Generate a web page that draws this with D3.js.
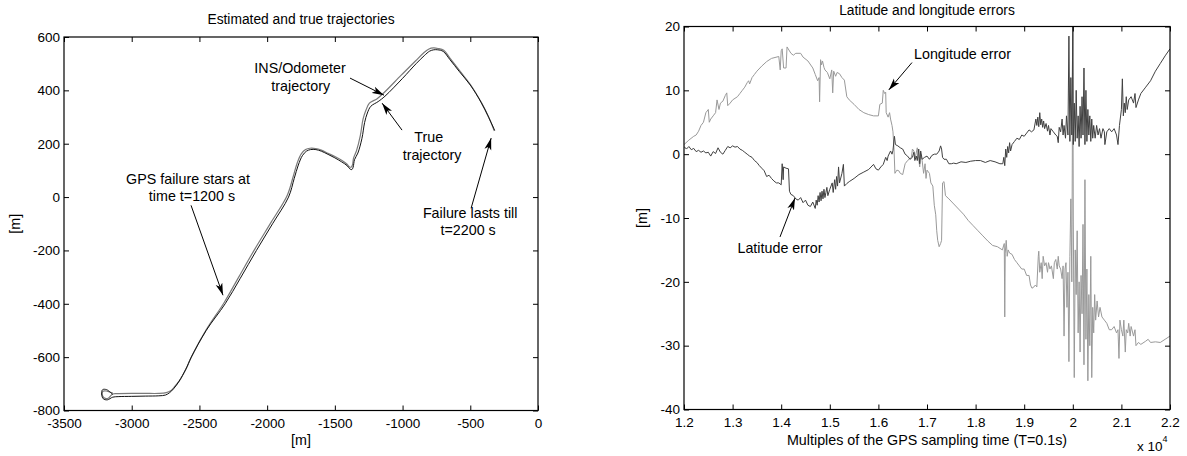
<!DOCTYPE html>
<html>
<head>
<meta charset="utf-8">
<script src="https://cdn.jsdelivr.net/npm/d3@7"></script>
<style>
  html, body { margin: 0; padding: 0; background: #fff; }
  svg { display: block; font-family: "Liberation Sans", Arial, sans-serif; }
</style>
</head>
<body>
<svg id="chart" width="1187" height="456"></svg>
<script>
// ---------- Left chart data: trajectories [m] ----------
const trueX = [-3140,-3185,-3215,-3222,-3210,-3180,-3140,-3100,-3000,-2900,-2800,-2750,-2720,-2690,-2650,-2600,-2560,-2450,-2310,-2200,-2079,-1960,-1842,-1800,-1770,-1740,-1710,-1680,-1640,-1600,-1550,-1500,-1450,-1410,-1390,-1375,-1365,-1355,-1330,-1300,-1280,-1260,-1235,-1180,-1130,-1000,-900,-840,-800,-770,-740,-700,-650,-580,-500,-420,-370,-320];
const trueY = [-740,-722,-722,-738,-756,-760,-750,-748,-747,-746,-745,-742,-733,-718,-690,-645,-600,-500,-400,-306,-200,-100,0,70,120,155,172,178,178,172,160,147,132,118,106,103,112,140,165,220,280,315,340,358,378,445,500,530,547,552,552,546,515,470,420,355,305,250];
const insX = [-3140,-3188,-3212,-3218,-3205,-3178,-3140,-3100,-3000,-2900,-2800,-2745,-2712,-2682,-2642,-2595,-2556,-2448,-2318,-2210,-2090,-1970,-1852,-1808,-1778,-1748,-1716,-1684,-1642,-1600,-1550,-1500,-1450,-1412,-1394,-1380,-1370,-1362,-1340,-1312,-1292,-1270,-1245,-1190,-1140,-1010,-905,-845,-805,-772,-738,-696,-646,-576,-497,-418,-368,-322];
const insY = [-735,-727,-728,-740,-752,-755,-738,-737,-736,-736,-736,-733,-726,-710,-684,-640,-596,-496,-396,-300,-194,-94,6,76,128,162,178,183,182,176,164,152,138,124,114,112,120,146,174,230,292,326,352,368,390,457,510,540,555,559,557,550,518,472,420,354,304,248];
const trajXTicks = [-3500,-3000,-2500,-2000,-1500,-1000,-500,0];
const trajYTicks = [600,400,200,0,-200,-400,-600,-800];

// ---------- Right chart data: errors [m] vs sample index ----------
const lonX = [12000,12100,12200,12250,12300,12350,12400,12450,12500,12520,12550,12600,12650,12680,12720,12750,12800,12850,12880,12900,12950,13000,13100,13150,13200,13250,13300,13330,13350,13400,13450,13500,13600,13700,13800,13950,13980,14000,14020,14050,14100,14120,14200,14250,14300,14400,14450,14550,14650,14700,14750,14780,14790,14810,14830,14850,14880,14900,14950,15000,15040,15060,15080,15120,15150,15200,15250,15300,15350,15400,15500,15600,15700,15800,15900,16000,16030,16080,16100,16130,16150,16160,16200,16230,16250,16280,16300,16320,16340,16380,16420,16450,16500,16550,16600,16680,16700,16730,16760,16800,16850,16870,16900,16930,16960,16980,17000,17050,17080,17120,17150,17180,17200,17220,17250,17280,17300,17320,17350,17380,17450,17550,17650,17750,17850,17950,18050,18150,18250,18350,18450,18550,18590,18600,18610,18630,18650,18670,18700,18750,18800,18850,18900,18950,19000,19050,19100,19130,19160,19200,19230,19260,19290,19300,19320,19350,19370,19390,19420,19450,19480,19500,19530,19560,19600,19620,19650,19680,19700,19720,19750,19780,19800,19820,19840,19860,19880,19900,19920,19940,19960,19980,20000,20010,20030,20050,20070,20090,20110,20130,20150,20170,20190,20210,20230,20250,20270,20290,20310,20330,20350,20370,20390,20410,20430,20450,20470,20500,20530,20560,20600,20650,20700,20750,20800,20850,20900,20930,20950,20970,21000,21030,21050,21080,21100,21130,21150,21180,21200,21250,21280,21300,21350,21400,21500,21550,21600,21700,21800,21900,22000];
const lonY = [1.5,2.2,2.8,3.0,3.6,4.5,5.0,6.5,7.0,5.0,5.5,6.0,6.5,8.5,7.0,8.0,8.3,9.2,9.6,7.6,8.0,8.5,9.0,9.5,10.0,10.5,11.2,11.5,11.0,12.0,12.5,13.0,13.8,14.5,15.0,15.3,13.2,16.2,16.5,13.5,13.5,16.8,15.8,15.5,15.8,15.8,15.2,14.6,13.5,12.5,11.5,12.0,8.2,14.8,14.0,14.6,13.6,13.2,12.8,11.8,13.2,9.6,13.0,12.2,12.8,12.6,12.0,11.6,9.0,8.5,7.8,7.0,6.5,6.2,6.0,6.0,7.8,8.0,10.0,9.5,9.7,6.5,5.8,6.5,5.5,4.5,3.5,1.0,-3.0,-2.5,-2.6,-3.0,-3.2,-1.5,-1.0,-0.5,0.8,0.5,-0.5,1.0,-2.0,0.0,-1.0,-3.0,-1.5,-3.8,-2.5,-3.0,-4.5,-5.0,-8.0,-9.5,-12.0,-13.5,-14.5,-14.0,-13.5,-4.5,-4.3,-6.5,-7.0,-7.8,-8.6,-9.4,-10.4,-11.2,-12.0,-12.8,-13.6,-14.3,-14.5,-15.0,-14.0,-25.5,-15.5,-13.5,-16.0,-15.0,-15.5,-15.7,-16.5,-17.0,-17.5,-18.0,-18.0,-19.0,-19.0,-20.5,-21.0,-20.8,-20.5,-20.8,-16.0,-15.2,-18.5,-17.0,-19.5,-16.0,-17.5,-17.0,-18.5,-17.0,-18.0,-17.5,-19.5,-17.0,-16.5,-18.0,-16.0,-17.5,-18.0,-19.5,-17.5,-28.5,-18.0,-17.0,-24.0,-18.5,-32.5,-16.0,-7.0,-20.0,20.0,-10.0,-35.0,-15.0,-22.0,-12.0,-28.0,-20.0,-31.0,-19.0,-25.0,-11.0,-33.0,-4.0,-29.0,-18.0,-35.5,-22.0,-30.0,-16.0,-35.0,-24.0,-28.0,-22.0,-26.0,-23.0,-25.5,-24.0,-25.5,-26.0,-26.5,-27.5,-27.5,-27.0,-28.0,-27.5,-32.0,-26.0,-27.5,-28.5,-26.0,-31.0,-27.5,-28.0,-26.5,-28.5,-27.0,-28.5,-27.5,-30.0,-29.5,-29.8,-29.3,-29.0,-29.5,-29.4,-29.5,-29.0,-28.5];
const latX = [12000,12050,12100,12150,12200,12250,12300,12350,12400,12450,12500,12550,12600,12650,12700,12750,12800,12850,12900,12950,13000,13050,13100,13150,13200,13250,13300,13350,13400,13450,13500,13550,13600,13650,13700,13750,13800,13850,13900,13950,14000,14020,14040,14050,14100,14150,14170,14200,14250,14300,14350,14400,14450,14500,14550,14600,14650,14700,14720,14740,14760,14780,14800,14820,14840,14860,14880,14900,14920,14940,14960,15000,15050,15070,15100,15120,15140,15160,15180,15200,15250,15280,15300,15350,15400,15500,15600,15700,15800,15900,15950,16000,16050,16100,16150,16180,16200,16250,16280,16300,16330,16350,16400,16450,16500,16550,16600,16650,16700,16730,16750,16780,16800,16830,16850,16870,16900,16950,17000,17050,17100,17150,17200,17250,17280,17300,17320,17350,17400,17450,17500,17550,17600,17700,17800,17900,18000,18100,18200,18300,18400,18500,18560,18580,18600,18620,18640,18660,18680,18700,18720,18750,18800,18850,18900,18950,19000,19050,19100,19150,19200,19240,19260,19280,19300,19320,19340,19360,19380,19400,19420,19450,19480,19500,19530,19550,19600,19650,19680,19700,19720,19750,19780,19800,19820,19850,19870,19900,19920,19940,19960,19980,20000,20010,20030,20050,20070,20090,20110,20130,20150,20170,20190,20210,20230,20250,20270,20290,20310,20330,20350,20370,20390,20410,20430,20460,20490,20520,20550,20580,20620,20650,20660,20700,20750,20800,20850,20900,20930,20960,21000,21020,21040,21060,21080,21100,21120,21150,21200,21250,21280,21300,21350,21400,21500,21600,21700,21800,21900,22000];
const latY = [1.2,0.8,1.2,0.7,0.9,0.4,0.6,0.3,0.5,0.2,0.3,-0.3,0.4,0.1,1.0,0.3,0.0,0.6,1.2,1.0,1.3,1.1,1.2,0.8,0.6,0.3,0.0,-0.3,-0.5,-1.0,-1.3,-1.8,-2.2,-2.6,-3.5,-3.3,-3.8,-4.2,-4.5,-4.5,-4.8,-1.5,-4.0,-2.0,-2.2,-2.3,-5.8,-6.3,-6.5,-7.0,-7.2,-6.8,-7.6,-7.2,-8.0,-8.2,-7.5,-8.5,-7.2,-8.0,-6.5,-7.5,-6.0,-7.3,-5.8,-7.0,-5.5,-6.8,-6.0,-5.2,-6.5,-5.5,-4.5,-6.0,-4.0,-5.5,-3.5,-5.0,-2.0,-4.5,-3.0,-1.6,-5.0,-4.6,-4.3,-3.8,-3.2,-2.8,-2.4,-1.6,-2.3,-2.5,-2.0,-1.6,-0.5,-1.0,-0.3,0.5,0.0,0.6,2.8,1.5,1.3,1.0,0.8,0.0,-0.3,-0.8,-0.5,0.3,-1.0,-0.3,-1.0,0.8,-1.5,0.5,-0.8,-0.5,-0.3,-0.8,-0.2,0.0,0.0,0.5,1.3,0.8,-0.5,-0.8,-0.8,-1.5,-1.5,-1.4,-1.5,-1.2,-1.3,-1.1,-1.0,-1.0,-1.3,-1.0,-1.2,-1.5,-1.5,-0.5,-1.8,0.8,-0.5,1.2,0.2,1.8,0.5,1.5,2.0,2.5,2.3,3.0,2.8,3.3,3.8,3.5,3.8,5.5,4.5,5.8,4.3,6.5,4.6,5.5,4.2,5.2,4.0,4.8,3.6,4.5,3.0,4.0,3.5,3.0,2.8,1.8,4.2,3.5,5.5,3.0,4.5,2.5,6.0,3.0,18.5,2.0,12.0,3.0,20.0,1.5,8.0,2.0,10.0,2.5,6.0,1.2,7.5,2.5,9.0,3.0,13.5,1.5,10.0,2.0,7.0,3.0,6.0,2.0,5.5,2.5,4.5,2.5,4.5,3.0,4.0,2.5,4.0,3.5,1.5,3.5,4.0,3.5,4.0,3.0,1.5,4.5,7.0,11.8,6.0,8.0,6.5,9.0,7.0,8.5,9.0,8.0,9.5,7.3,8.5,9.5,10.5,11.5,13.0,14.2,15.4,16.5];
const errXTicks = [12000,13000,14000,15000,16000,17000,18000,19000,20000,21000,22000];
const errXTickLabels = ["1.2","1.3","1.4","1.5","1.6","1.7","1.8","1.9","2","2.1","2.2"];
const errYTicks = [20,10,0,-10,-20,-30,-40];

// ---------- Layout ----------
const svg = d3.select("#chart");
svg.append("rect").attr("width", 1187).attr("height", 456).attr("fill", "#fff");
const FS = 13.5;   // tick labels
const FA = 14.3;   // annotations / axis labels
const FT = 13.8;   // titles

const L = {x0: 64, x1: 538, y0: 37, y1: 410.5};
const R = {x0: 684, x1: 1170, y0: 26.5, y1: 409.5};

const xL = d3.scaleLinear().domain([-3500, 0]).range([L.x0, L.x1]);
const yL = d3.scaleLinear().domain([-800, 600]).range([L.y1, L.y0]);
const xR = d3.scaleLinear().domain([12000, 22000]).range([R.x0, R.x1]);
const yR = d3.scaleLinear().domain([-40, 20]).range([R.y1, R.y0]);

const defs = svg.append("defs");
defs.append("marker").attr("id", "arrow")
  .attr("viewBox", "0 0 12 8").attr("refX", 12).attr("refY", 4)
  .attr("markerWidth", 12).attr("markerHeight", 8)
  .attr("markerUnits", "userSpaceOnUse").attr("orient", "auto")
  .append("path").attr("d", "M0,0.5 L12,4 L0,7.5 L3,4 Z").attr("fill", "#000");

function clip(id, B) {
  defs.append("clipPath").attr("id", id).append("rect")
    .attr("x", B.x0).attr("y", B.y0).attr("width", B.x1 - B.x0).attr("height", B.y1 - B.y0);
}
clip("clipL", L); clip("clipR", R);

const plain = d => String(d);

function axes(B, xs, ys, xt, yt, xfmt) {
  const g = svg.append("g");
  const gx = g.append("g").attr("transform", `translate(0,${B.y1})`)
    .call(d3.axisBottom(xs).tickValues(xt).tickSizeInner(-5).tickSizeOuter(0).tickPadding(7.5).tickFormat(xfmt));
  const gy = g.append("g").attr("transform", `translate(${B.x0},0)`)
    .call(d3.axisLeft(ys).tickValues(yt).tickSizeInner(-5).tickSizeOuter(0).tickPadding(4).tickFormat(plain));
  const gt = g.append("g").attr("transform", `translate(0,${B.y0})`)
    .call(d3.axisTop(xs).tickValues(xt).tickSizeInner(-5).tickSizeOuter(0).tickFormat(""));
  const gr = g.append("g").attr("transform", `translate(${B.x1},0)`)
    .call(d3.axisRight(ys).tickValues(yt).tickSizeInner(-5).tickSizeOuter(0).tickFormat(""));
  [gx, gy, gt, gr].forEach(a => {
    a.select(".domain").remove();
    a.selectAll("line").attr("stroke", "#000");
    a.selectAll("text").attr("fill", "#000").style("font-size", FS + "px")
      .style("font-family", "'Liberation Sans', Arial, sans-serif");
  });
  g.append("rect").attr("x", B.x0).attr("y", B.y0)
    .attr("width", B.x1 - B.x0).attr("height", B.y1 - B.y0)
    .attr("fill", "none").attr("stroke", "#000").attr("stroke-width", 1.2);
}

function text(x, y, s, opt = {}) {
  const t = svg.append("text").attr("x", x).attr("y", y).text(s)
    .attr("text-anchor", opt.anchor || "middle")
    .attr("dominant-baseline", "middle")
    .style("font-size", (opt.size || FA) + "px").attr("fill", "#000");
  if (opt.rotate) t.attr("transform", `rotate(-90,${x},${y})`);
  return t;
}
function arrow(x1, y1, x2, y2) {
  svg.append("line").attr("x1", x1).attr("y1", y1).attr("x2", x2).attr("y2", y2)
    .attr("stroke", "#000").attr("stroke-width", 1).attr("marker-end", "url(#arrow)");
}

// ---------- Left chart ----------
const lineL = d3.line().x(d => xL(d[0])).y(d => yL(d[1])).curve(d3.curveCatmullRom.alpha(0.5));
const gL = svg.append("g").attr("clip-path", "url(#clipL)");
gL.append("path").datum(d3.zip(insX, insY)).attr("d", lineL)
  .attr("fill", "none").attr("stroke", "#7a7a7a").attr("stroke-width", 1.2);
gL.append("path").datum(d3.zip(trueX, trueY)).attr("d", lineL)
  .attr("fill", "none").attr("stroke", "#111").attr("stroke-width", 1);
axes(L, xL, yL, trajXTicks, trajYTicks, plain);

text((L.x0 + L.x1) / 2, 20.5, "Estimated and true trajectories", {size: FT});
text((L.x0 + L.x1) / 2, 441.5, "[m]");
text(16, (L.y0 + L.y1) / 2, "[m]", {rotate: true});

text(xL(-1757), yL(480), "INS/Odometer");
text(xL(-1752), yL(412), "trajectory");
arrow(xL(-1388), yL(446), xL(-1137), yL(382));
text(xL(-807), yL(221), "True");
text(xL(-782), yL(153), "trajectory");
arrow(xL(-1004), yL(251), xL(-1151), yL(352));
text(xL(-2584), yL(63), "GPS failure stars at");
text(xL(-2555), yL(0), "time t=1200 s");
arrow(xL(-2562), yL(-31), xL(-2326), yL(-368));
text(xL(-501), yL(-64), "Failure lasts till");
text(xL(-516), yL(-128), "t=2200 s");
arrow(xL(-494), yL(-42), xL(-346), yL(221));

// ---------- Right chart ----------
const lineR = d3.line().x(d => xR(d[0])).y(d => yR(d[1]));
const gR = svg.append("g").attr("clip-path", "url(#clipR)");
gR.append("path").datum(d3.zip(lonX, lonY)).attr("d", lineR)
  .attr("fill", "none").attr("stroke", "#999").attr("stroke-width", 1);
gR.append("path").datum(d3.zip(latX, latY)).attr("d", lineR)
  .attr("fill", "none").attr("stroke", "#404040").attr("stroke-width", 1);
axes(R, xR, yR, errXTicks, errYTicks, (d, i) => errXTickLabels[i]);

text((R.x0 + R.x1) / 2, 11, "Latitude and longitude errors", {size: FT});
text((R.x0 + R.x1) / 2, 441.5, "Multiples of the GPS sampling time (T=0.1s)");
text(643, (R.y0 + R.y1) / 2, "[m]", {rotate: true});
const xe = svg.append("text").attr("x", 1137).attr("y", 446.5).attr("dominant-baseline", "middle")
  .style("font-size", FS + "px").attr("fill", "#000");
xe.append("tspan").text("x 10");
xe.append("tspan").attr("dy", -7).style("font-size", "9px").text("4");

text(xR(16733), yR(15.5), "Longitude error", {anchor: "start"});
arrow(xR(16691), yR(14.35), xR(16214), yR(10.07));
text(xR(13975), yR(-14.86), "Latitude error");
arrow(xR(13975), yR(-12.97), xR(14284), yR(-6.86));
</script>
</body>
</html>
